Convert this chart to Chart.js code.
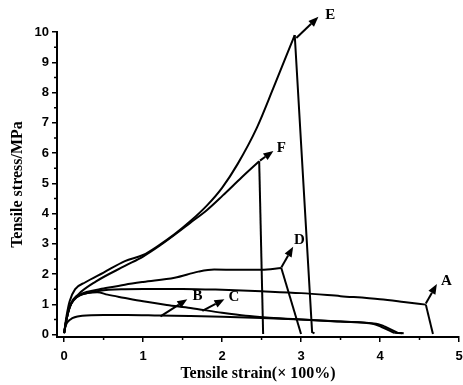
<!DOCTYPE html>
<html>
<head>
<meta charset="utf-8">
<script src="https://cdn.jsdelivr.net/npm/chart.js@4"></script>
<style>
  html, body { margin: 0; padding: 0; background: white; }
  #wrap { width: 463px; height: 385px; }
</style>
</head>
<body>
<div id="wrap"><canvas id="chart"></canvas></div>
<script>
// curves, [strain, stress]
const curveA = [[0,0.05],[0.03,0.5],[0.07,0.9],[0.12,1.15],[0.2,1.3],[0.3,1.38],[0.45,1.45],[0.77,1.5],[1,1.51],[1.5,1.51],[2,1.48],[2.5,1.43],[3,1.37],[3.5,1.27],[4,1.17],[4.3,1.08],[4.58,0.99],[4.67,0.02]];
const curveB = [[0,0.05],[0.02,0.3],[0.08,0.5],[0.23,0.62],[0.5,0.65],[0.8,0.65],[1.2,0.63],[1.6,0.61],[2,0.59],[2.5,0.55],[3,0.5],[3.5,0.43],[3.92,0.35],[4.02,0.25],[4.18,0.06],[4.28,0.04]];
const curveC = [[0,0.05],[0.03,0.5],[0.07,0.9],[0.12,1.13],[0.2,1.3],[0.3,1.37],[0.42,1.4],[0.55,1.32],[0.75,1.22],[1,1.1],[1.3,0.98],[1.6,0.88],[2,0.72],[2.3,0.62],[2.6,0.56],[3,0.5],[3.5,0.43],[3.95,0.36],[4.05,0.28],[4.22,0.06],[4.3,0.04]];
const curveD = [[0,0.05],[0.03,0.5],[0.07,0.9],[0.12,1.15],[0.2,1.32],[0.3,1.42],[0.5,1.52],[0.77,1.65],[1,1.74],[1.4,1.88],[1.7,2.08],[1.9,2.15],[2.2,2.14],[2.5,2.14],[2.75,2.2],[3.0,0.02]];
const curveE = [[0,0.05],[0.03,0.6],[0.07,1.1],[0.14,1.5],[0.27,1.73],[0.5,2.05],[0.77,2.43],[1,2.63],[1.2,2.95],[1.4,3.32],[1.6,3.75],[1.81,4.27],[2,4.85],[2.2,5.65],[2.44,6.83],[2.65,8.15],[2.92,9.9],[3.14,0.08],[3.17,0.04]];
const curveF = [[0,0.05],[0.03,0.5],[0.08,1.0],[0.18,1.33],[0.4,1.75],[0.77,2.27],[1,2.58],[1.2,2.92],[1.4,3.3],[1.6,3.7],[1.81,4.12],[2.01,4.6],[2.25,5.2],[2.47,5.73],[2.52,0.02]];

const curves = [curveA, curveB, curveC, curveD, curveE, curveF];
// index where each curve breaks and drops straight down
const breakAt = [16, 14, 18, 14, 16, 13];

// label arrows: [fromX, fromY, toX, toY, labelX, labelY, text]
const arrows = [
  [4.58, 1.03, 4.72, 1.67, 4.84, 1.78, "A"],
  [1.22, 0.6, 1.56, 1.17, 1.69, 1.27, "B"],
  [1.75, 0.78, 2.03, 1.17, 2.15, 1.23, "C"],
  [2.75, 2.22, 2.9, 2.9, 2.98, 3.13, "D"],
  [2.94, 9.8, 3.22, 10.5, 3.37, 10.55, "E"],
  [2.48, 5.75, 2.65, 6.07, 2.75, 6.17, "F"],
];

const xTicks = [0, 1, 2, 3, 4, 5];
const yTicks = [0, 1, 2, 3, 4, 5, 6, 7, 8, 9, 10];

const arrowPlugin = {
  id: "arrows",
  afterDatasetsDraw(chart) {
    const ctx = chart.ctx;
    const xs = chart.scales.x;
    const ys = chart.scales.y;
    ctx.save();
    ctx.strokeStyle = "#000";
    ctx.fillStyle = "#000";
    ctx.lineWidth = 2;
    arrows.forEach((a) => {
      const x1 = xs.getPixelForValue(a[0]);
      const y1 = ys.getPixelForValue(a[1]);
      const x2 = xs.getPixelForValue(a[2]);
      const y2 = ys.getPixelForValue(a[3]);
      const ang = Math.atan2(y2 - y1, x2 - x1);
      const hl = 10, hw = 4;
      const bx = x2 - hl * Math.cos(ang);
      const by = y2 - hl * Math.sin(ang);
      ctx.beginPath();
      ctx.moveTo(x1, y1);
      ctx.lineTo(bx, by);
      ctx.stroke();
      ctx.beginPath();
      ctx.moveTo(x2, y2);
      ctx.lineTo(bx + hw * Math.sin(ang), by - hw * Math.cos(ang));
      ctx.lineTo(bx - hw * Math.sin(ang), by + hw * Math.cos(ang));
      ctx.closePath();
      ctx.fill();
      ctx.font = "bold 15px 'Liberation Serif'";
      ctx.textAlign = "center";
      ctx.textBaseline = "middle";
      ctx.fillText(a[6], xs.getPixelForValue(a[4]), ys.getPixelForValue(a[5]));
    });

    // minor ticks at the half units
    ctx.lineWidth = 1.5;
    ctx.beginPath();
    for (let v = 0.5; v < 5; v += 1) {
      const px = xs.getPixelForValue(v);
      ctx.moveTo(px, xs.top);
      ctx.lineTo(px, xs.top + 3);
    }
    for (let v = 0.5; v < 10; v += 1) {
      const py = ys.getPixelForValue(v);
      ctx.moveTo(ys.right, py);
      ctx.lineTo(ys.right - 3, py);
    }
    ctx.stroke();
    ctx.restore();
  },
};

// smooth rising part + straight drop for every curve
const datasets = [];
curves.forEach((c, i) => {
  const k = breakAt[i];
  datasets.push({
    data: c.slice(0, k + 1).map((p) => ({ x: p[0], y: p[1] })),
    borderColor: "#000",
    borderWidth: 2,
    pointRadius: 0,
    fill: false,
    cubicInterpolationMode: "monotone",
  });
  datasets.push({
    data: c.slice(k).map((p) => ({ x: p[0], y: p[1] })),
    borderColor: "#000",
    borderWidth: 2,
    pointRadius: 0,
    fill: false,
    tension: 0,
  });
});

const config = {
  type: "line",
  data: { datasets: datasets },
  options: {
    responsive: true,
    maintainAspectRatio: false,
    animation: false,
    layout: {
      padding: { top: 32, right: 4, left: 0, bottom: 0 },
    },
    plugins: {
      legend: { display: false },
      tooltip: { enabled: false },
    },
    scales: {
      x: {
        type: "linear",
        min: -0.09,
        max: 5,
        afterBuildTicks: (scale) => {
          scale.ticks = xTicks.map((v) => ({ value: v }));
        },
        afterFit: (scale) => {
          scale.height = 48;
          scale.paddingLeft = 0;
          scale.paddingRight = 0;
        },
        border: { color: "#000", width: 2 },
        grid: { drawOnChartArea: false, color: "#000", tickLength: 5, lineWidth: 1.5 },
        ticks: {
          color: "#000",
          padding: 7,
          maxRotation: 0,
          font: { family: "'Liberation Sans'", weight: "bold", size: 13 },
        },
        title: {
          display: true,
          text: "Tensile strain(× 100%)",
          color: "#000",
          padding: { top: 0, bottom: 2 },
          font: { family: "'Liberation Serif'", weight: "bold", size: 16 },
        },
      },
      y: {
        type: "linear",
        min: -0.08,
        max: 10,
        afterBuildTicks: (scale) => {
          scale.ticks = yTicks.map((v) => ({ value: v }));
        },
        afterFit: (scale) => {
          scale.width = 57;
        },
        border: { color: "#000", width: 2 },
        grid: { drawOnChartArea: false, color: "#000", tickLength: 5, lineWidth: 1.5 },
        ticks: {
          color: "#000",
          padding: 3,
          font: { family: "'Liberation Sans'", weight: "bold", size: 13 },
        },
        title: {
          display: true,
          text: "Tensile stress/MPa",
          color: "#000",
          padding: { top: 8, bottom: 0 },
          font: { family: "'Liberation Serif'", weight: "bold", size: 16 },
        },
      },
    },
  },
  plugins: [arrowPlugin],
};

const ctx = document.getElementById("chart").getContext("2d");
const myChart = new Chart(ctx, config);
</script>
</body>
</html>
